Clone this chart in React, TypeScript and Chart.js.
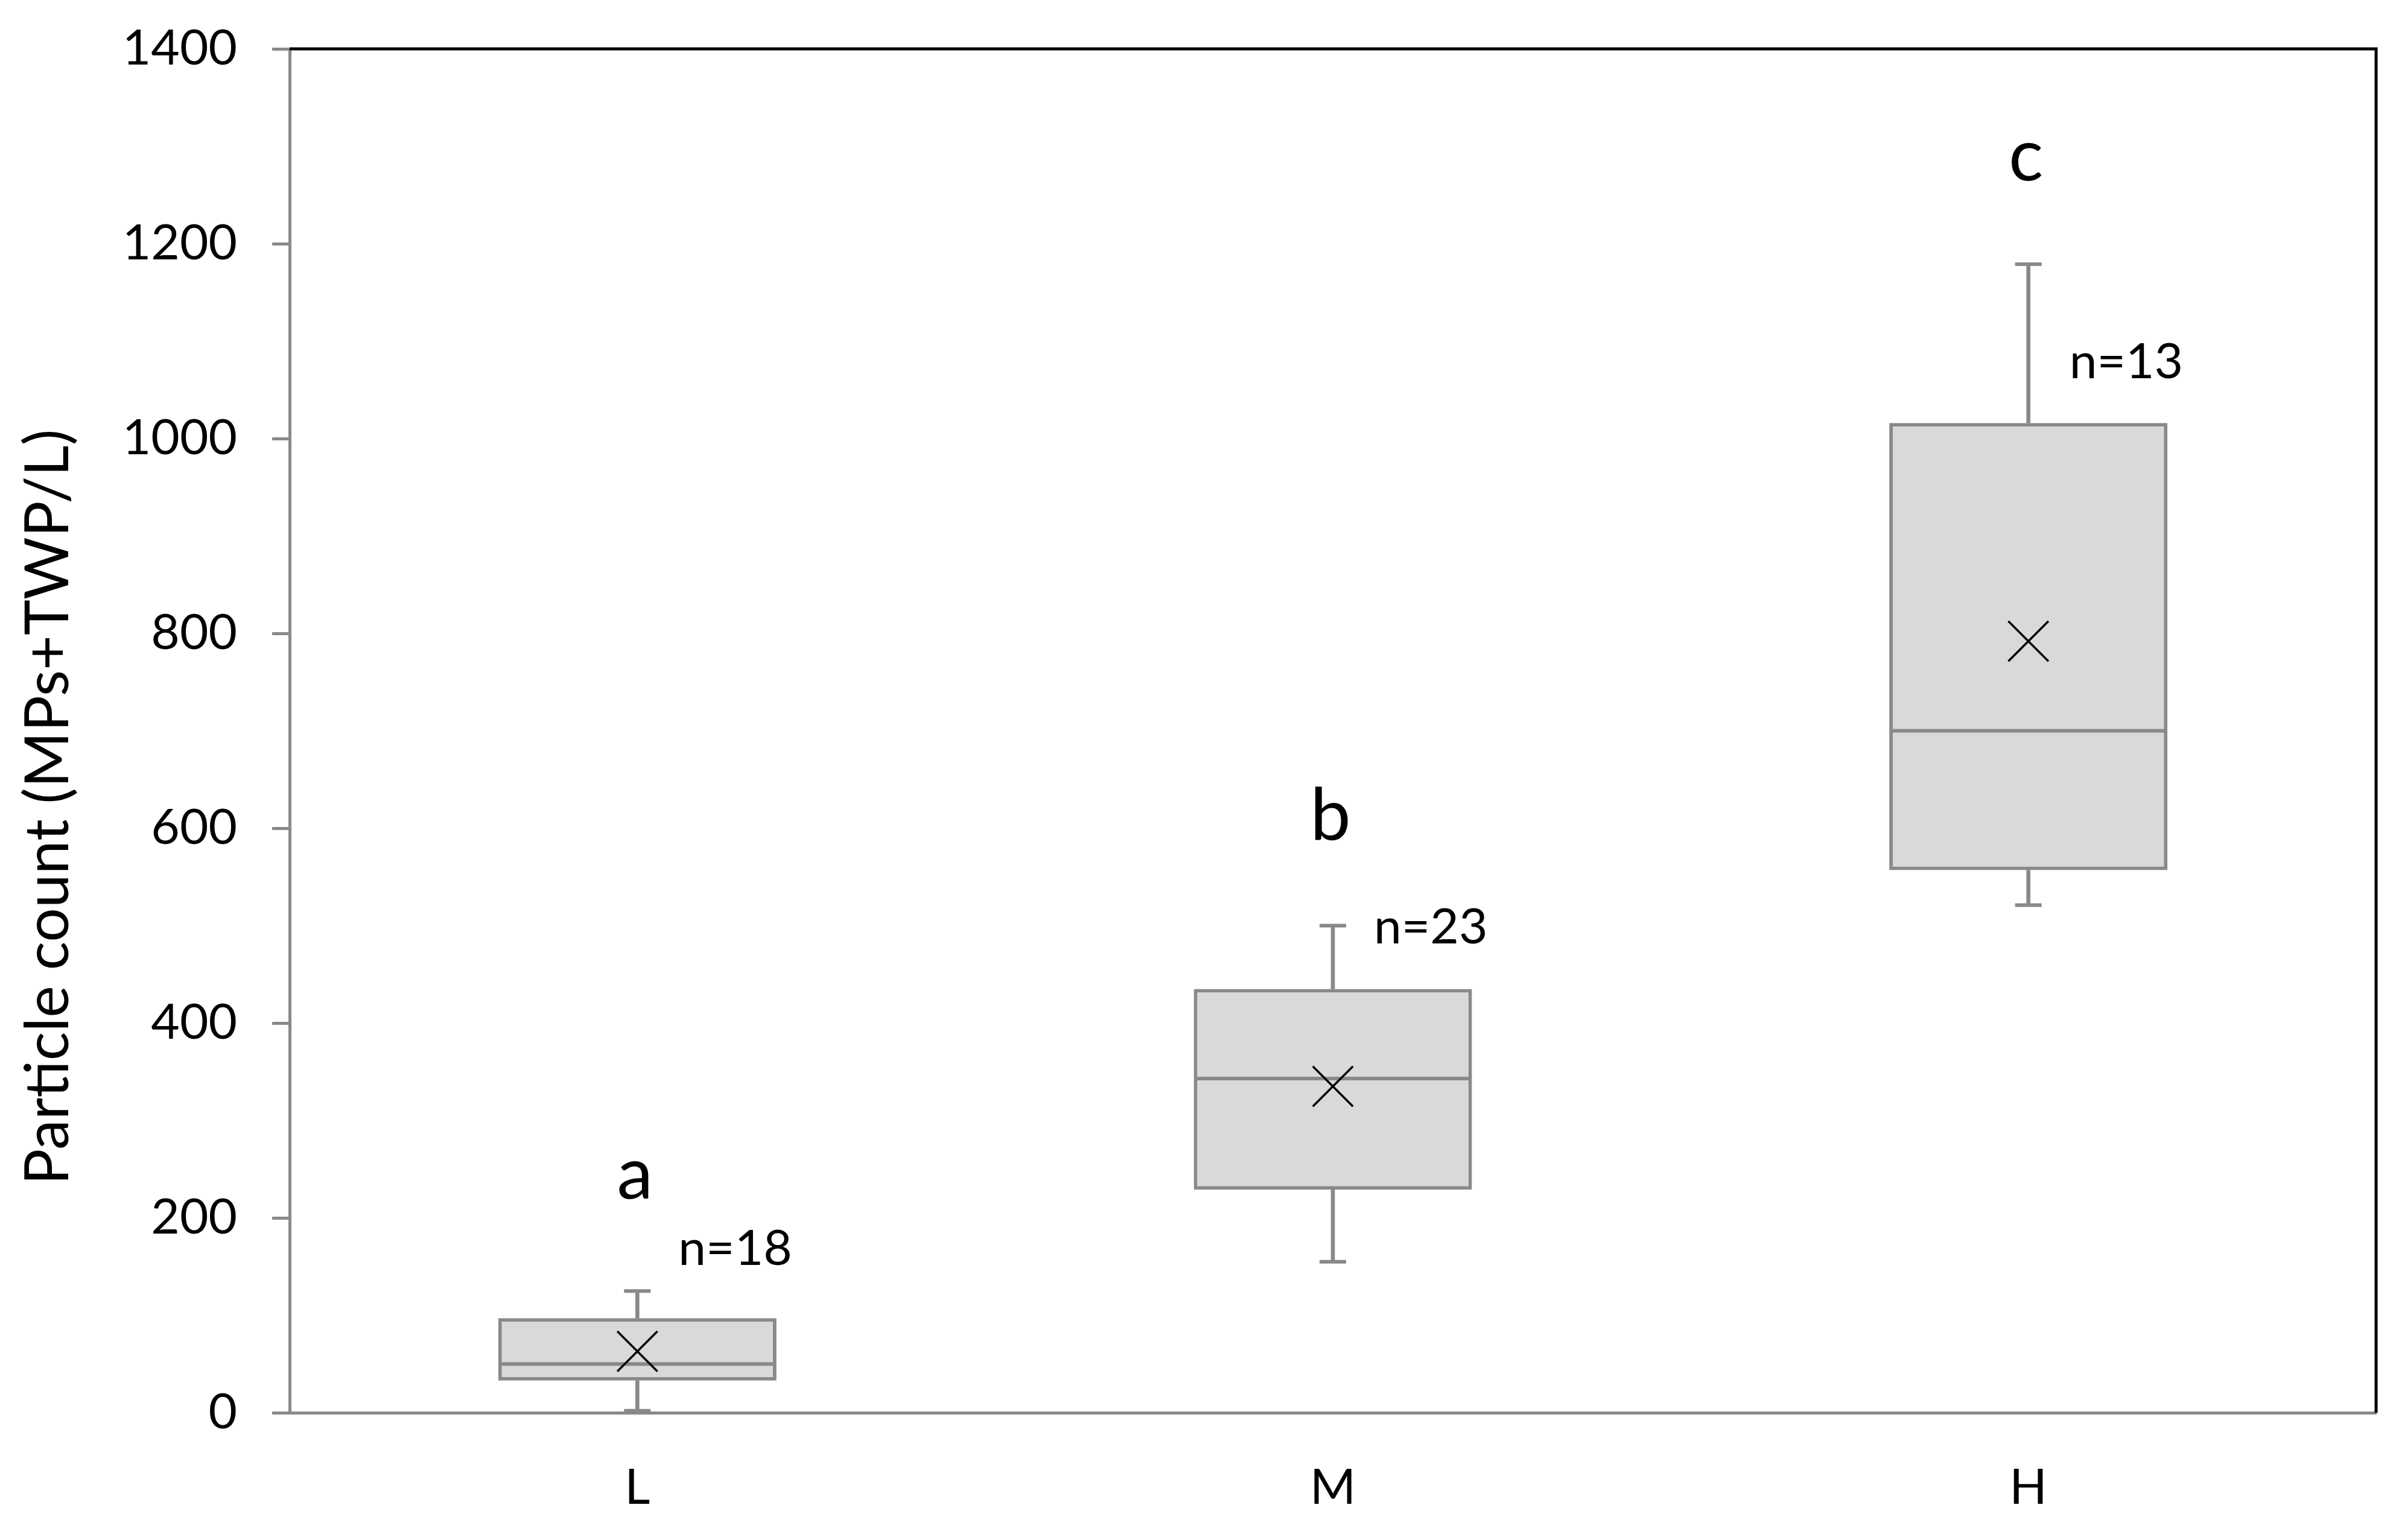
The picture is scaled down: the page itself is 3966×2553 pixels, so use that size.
import React, { useEffect, useRef } from "react";
import { Chart, registerables } from "chart.js";

Chart.register(...registerables);

// ---- data ----
const categories = ["L", "M", "H"];
const whiskerMin = [2, 155, 521];
const q1 = [33, 229, 557];
const median = [50, 343, 700];
const q3 = [97, 435, 1016];
const whiskerMax = [125, 500, 1179];
const means = [63, 335, 792];
const groupLetters = ["a", "b", "c"];
const sampleSizes = ["n=18", "n=23", "n=13"];
const letterY = [220, 588, 1265];
const sampleY = [152, 482, 1062];
const yTickValues = [0, 200, 400, 600, 800, 1000, 1200, 1400];
const yAxisTitle = "Particle count (MPs+TWP/L)";

const W = 3950;
const H = 2537;
const FONT = "Lato";
const GRAY = "#898989";
const LW = 6;

const framePlugin = {
  id: "frame",
  beforeDatasetsDraw(chart: any) {
    const { ctx, chartArea } = chart;
    ctx.save();
    ctx.strokeStyle = "#000";
    ctx.lineWidth = 5;
    ctx.beginPath();
    ctx.moveTo(chartArea.left, chartArea.top);
    ctx.lineTo(chartArea.right, chartArea.top);
    ctx.lineTo(chartArea.right, chartArea.bottom);
    ctx.stroke();
    ctx.restore();
  },
};

const labelsPlugin = {
  id: "labels",
  afterDatasetsDraw(chart: any) {
    const { ctx } = chart;
    const xs = chart.scales.x;
    const ys = chart.scales.y;
    ctx.save();
    ctx.fillStyle = "#000";
    ctx.textBaseline = "alphabetic";
    categories.forEach((_, i) => {
      const cx = xs.getPixelForValue(i);
      ctx.font = `120px ${FONT}`;
      ctx.textAlign = "center";
      ctx.fillText(groupLetters[i], cx - 4, ys.getPixelForValue(letterY[i]));
      ctx.font = `82px ${FONT}`;
      ctx.textAlign = "left";
      ctx.fillText(sampleSizes[i], cx + 68, ys.getPixelForValue(sampleY[i]));
    });
    // y axis title
    ctx.save();
    ctx.translate(73, 1330);
    ctx.rotate(-Math.PI / 2);
    ctx.font = `100px ${FONT}`;
    ctx.textAlign = "center";
    ctx.textBaseline = "middle";
    ctx.fillText(yAxisTitle, 0, 0);
    ctx.restore();
    ctx.restore();
  },
};

export default function App() {
  const ref = useRef<HTMLCanvasElement | null>(null);
  useEffect(() => {
    let chart: Chart | null = null;
    let cancelled = false;
    const make = () => {
      if (cancelled || !ref.current) return;
      chart = new Chart(ref.current, {
        type: "bar",
        data: {
          labels: categories,
          datasets: [
            {
              type: "bar",
              data: categories.map((_, i) => [q1[i], q3[i]]) as any,
              backgroundColor: "#D9D9D9",
              borderColor: GRAY,
              borderWidth: LW,
              borderSkipped: false,
              barPercentage: 0.4,
              categoryPercentage: 1,
              grouped: false,
              order: 5,
            } as any,
            {
              type: "bar",
              data: categories.map((_, i) => [whiskerMin[i], q1[i]]) as any,
              backgroundColor: GRAY,
              borderWidth: 0,
              barThickness: LW,
              grouped: false,
              order: 6,
            } as any,
            {
              type: "bar",
              data: categories.map((_, i) => [q3[i], whiskerMax[i]]) as any,
              backgroundColor: GRAY,
              borderWidth: 0,
              barThickness: LW,
              grouped: false,
              order: 6,
            } as any,
            {
              type: "line",
              data: whiskerMin,
              showLine: false,
              pointStyle: "line",
              pointRadius: 22,
              pointBorderColor: GRAY,
              pointBorderWidth: LW,
              clip: false,
              order: 4,
            } as any,
            {
              type: "line",
              data: whiskerMax,
              showLine: false,
              pointStyle: "line",
              pointRadius: 22,
              pointBorderColor: GRAY,
              pointBorderWidth: LW,
              clip: false,
              order: 4,
            } as any,
            {
              type: "line",
              data: median,
              showLine: false,
              pointStyle: "line",
              pointRadius: 228,
              pointBorderColor: GRAY,
              pointBorderWidth: LW,
              clip: false,
              order: 3,
            } as any,
            {
              type: "line",
              data: means,
              showLine: false,
              pointStyle: "crossRot",
              pointRadius: 47,
              pointBorderColor: "#000",
              pointBorderWidth: 3.5,
              clip: false,
              order: 1,
            } as any,
          ],
        },
        options: {
          animation: false,
          responsive: false,
          devicePixelRatio: 1,
          layout: { autoPadding: false, padding: { top: 73, right: 20, left: 0, bottom: 0 } },
          plugins: {
            legend: { display: false },
            tooltip: { enabled: false },
            title: { display: false },
          },
          scales: {
            x: {
              type: "category",
              offset: true,
              grid: { display: true, drawOnChartArea: false, drawTicks: false },
              border: { display: true, color: GRAY, width: 5 },
              ticks: { color: "#000", font: { family: FONT, size: 82 }, padding: 75 },
              afterFit: (s: any) => {
                s.height = H - 2334;
                s.paddingLeft = 0;
                s.paddingRight = 0;
              },
            },
            y: {
              min: 0,
              max: 1400,
              afterBuildTicks: (s: any) => {
                s.ticks = yTickValues.map((v) => ({ value: v }));
              },
              ticks: {
                color: "#000",
                font: { family: FONT, size: 82 },
                padding: 58,
                callback: (v: any) => String(v),
              },
              grid: {
                drawOnChartArea: false,
                drawTicks: true,
                tickLength: 29,
                color: GRAY,
                lineWidth: 5,
              },
              border: { display: true, color: GRAY, width: 5 },
              afterFit: (s: any) => {
                s.width = 472;
                s.paddingTop = 0;
                s.paddingBottom = 0;
              },
            },
          },
        } as any,
        plugins: [framePlugin, labelsPlugin],
      });
    };
    const fonts = (document as any).fonts;
    if (fonts && fonts.load) {
      Promise.all([fonts.load(`82px ${FONT}`), fonts.load(`120px ${FONT}`)])
        .catch(() => {})
        .then(make);
    } else {
      make();
    }
    return () => {
      cancelled = true;
      if (chart) chart.destroy();
    };
  }, []);
  return (
    <div style={{ width: W, height: H }}>
      <canvas ref={ref} width={W} height={H} style={{ display: "block", width: W, height: H }} />
    </div>
  );
}
